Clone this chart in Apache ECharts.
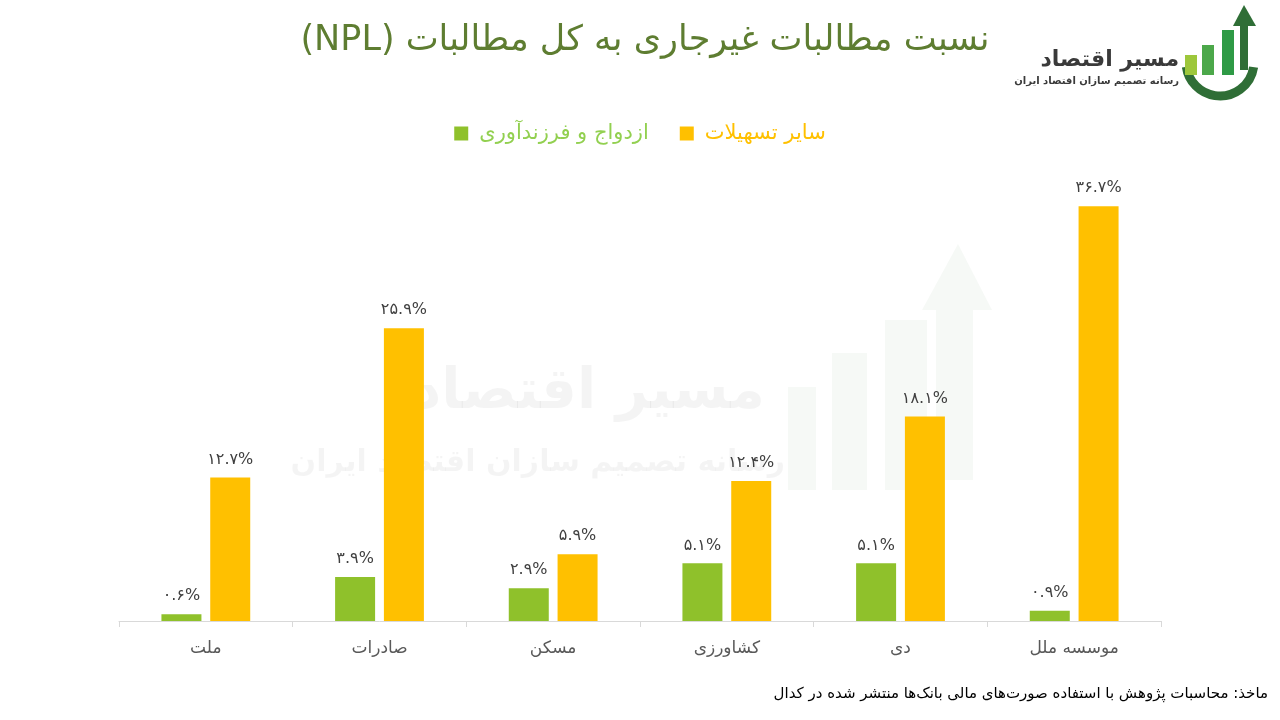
<!DOCTYPE html>
<html lang="fa">
<head>
<meta charset="UTF-8">
<script src="https://cdn.jsdelivr.net/npm/echarts@6/dist/echarts.min.js"></script>
<title>NPL</title>
<style>
  html, body { margin: 0; padding: 0; background: #fff; }
</style>
</head>
<body>
<div id="main" style="width:1280px;height:720px;"></div>
<script>
  // data
  var banks = ['ملت', 'صادرات', 'مسکن', 'کشاورزی', 'دی', 'موسسه ملل'];
  var marriage = [0.6, 3.9, 2.9, 5.1, 5.1, 0.9];
  var otherLoans = [12.7, 25.9, 5.9, 12.4, 18.1, 36.7];
  var seriesNames = ['ازدواج و فرزندآوری', 'سایر تسهیلات'];

  var font = 'DejaVu Sans';

  function faDigits(v) {
    var d = '۰۱۲۳۴۵۶۷۸۹';
    return v.toFixed(1).replace(/[0-9]/g, function (c) { return d[+c]; }) + '%';
  }

  var wm = 'rgba(110,150,100,0.06)';

  var chart = echarts.init(document.getElementById('main'));
  var option = {
    backgroundColor: '#fff',
    title: {
      // latin part first so the bidi order matches the rtl title
      text: '(NPL) نسبت مطالبات غیرجاری به کل مطالبات',
      left: 640,
      textAlign: 'center',
      top: 18,
      textStyle: { fontFamily: font, fontSize: 35, fontWeight: 'normal', color: '#5e7d31' }
    },
    legend: {
      top: 118,
      left: 'center',
      itemWidth: 14,
      itemHeight: 14,
      itemGap: 31,
      icon: 'rect',
      textStyle: { fontFamily: font, fontSize: 21, padding: [0, 0, 0, 6] },
      data: [
        { name: seriesNames[0], textStyle: { color: '#92d050' } },
        { name: seriesNames[1], textStyle: { color: '#ffc000' } }
      ]
    },
    grid: { left: 119, right: 119, top: 169, bottom: 99 },
    xAxis: {
      type: 'category',
      data: banks,
      axisLine: { lineStyle: { color: '#d9d9d9' } },
      axisTick: { show: true, length: 6, lineStyle: { color: '#d9d9d9' } },
      axisLabel: { fontFamily: font, fontSize: 17, color: '#595959', margin: 19 }
    },
    yAxis: {
      type: 'value',
      min: 0,
      max: 40,
      show: false
    },
    graphic: [
      // faint watermark
      { type: 'rect', z: -10, silent: true, shape: { x: 788, y: 387, width: 28, height: 103 }, style: { fill: wm } },
      { type: 'rect', z: -10, silent: true, shape: { x: 832, y: 353, width: 35, height: 137 }, style: { fill: wm } },
      { type: 'rect', z: -10, silent: true, shape: { x: 885, y: 320, width: 42, height: 170 }, style: { fill: wm } },
      { type: 'polygon', z: -10, silent: true, shape: { points: [[936, 310], [922, 310], [958, 244], [992, 310], [973, 310], [973, 480], [936, 480]] }, style: { fill: wm } },
      { type: 'text', z: -10, silent: true, style: { x: 765, y: 393, text: 'مسیر اقتصاد', font: 'bold 56px DejaVu Sans', fill: 'rgba(0,0,0,0.045)', align: 'right', verticalAlign: 'middle' } },
      { type: 'text', z: -10, silent: true, style: { x: 785, y: 463, text: 'رسانه تصمیم سازان اقتصاد ایران', font: 'bold 30px DejaVu Sans', fill: 'rgba(0,0,0,0.045)', align: 'right', verticalAlign: 'middle' } },
      // logo top right
      { type: 'arc', silent: true, shape: { cx: 1220, cy: 62, r: 34, startAngle: 0.15, endAngle: 3.0 }, style: { stroke: '#2f6e36', lineWidth: 9, fill: 'none' } },
      { type: 'rect', silent: true, shape: { x: 1185, y: 55, width: 12, height: 20 }, style: { fill: '#9dc73b' } },
      { type: 'rect', silent: true, shape: { x: 1202, y: 45, width: 12, height: 30 }, style: { fill: '#4ca84a' } },
      { type: 'rect', silent: true, shape: { x: 1222, y: 30, width: 12, height: 45 }, style: { fill: '#2e9a45' } },
      { type: 'rect', silent: true, shape: { x: 1240, y: 22, width: 8, height: 48 }, style: { fill: '#2f6e36' } },
      { type: 'polygon', silent: true, shape: { points: [[1233, 26], [1244, 5], [1256, 26]] }, style: { fill: '#2f6e36' } },
      { type: 'text', silent: true, style: { x: 1179, y: 60, text: 'مسیر اقتصاد', font: 'bold 22px DejaVu Sans', fill: '#3a3a3a', align: 'right', verticalAlign: 'middle' } },
      { type: 'text', silent: true, style: { x: 1179, y: 81, text: 'رسانه تصمیم سازان اقتصاد ایران', font: 'bold 10px DejaVu Sans', fill: '#3a3a3a', align: 'right', verticalAlign: 'middle' } },
      // source note
      {
        type: 'text', silent: true,
        style: { x: 1268, y: 694, text: 'ماخذ: محاسبات پژوهش با استفاده صورت‌های مالی بانک‌ها منتشر شده در کدال', font: '15px DejaVu Sans', fill: '#000', align: 'right', verticalAlign: 'middle' }
      }
    ],
    series: [
      {
        name: seriesNames[0],
        type: 'bar',
        data: marriage,
        barWidth: 40,
        barGap: '22%',
        itemStyle: { color: '#8fc12b' },
        label: {
          show: true, position: 'top', distance: 10,
          fontFamily: font, fontSize: 16, color: '#404040',
          formatter: function (p) { return faDigits(p.value); }
        }
      },
      {
        name: seriesNames[1],
        type: 'bar',
        data: otherLoans,
        barWidth: 40,
        itemStyle: { color: '#ffc000' },
        label: {
          show: true, position: 'top', distance: 10,
          fontFamily: font, fontSize: 16, color: '#404040',
          formatter: function (p) { return faDigits(p.value); }
        }
      }
    ]
  };
  chart.setOption(option);
</script>
</body>
</html>
